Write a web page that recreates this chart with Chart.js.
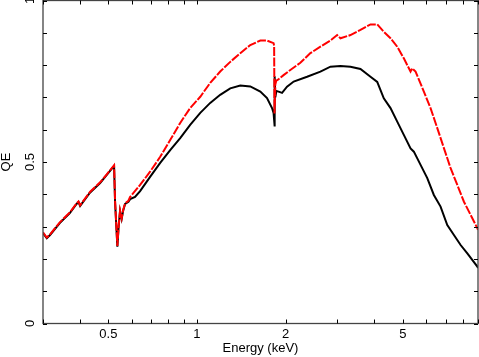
<!DOCTYPE html>
<html>
<head>
<meta charset="utf-8">
<script src="https://cdn.jsdelivr.net/npm/chart.js@4/dist/chart.umd.min.js"></script>
<style>
html,body{margin:0;padding:0;background:#fff;}
canvas{display:block;}
</style>
</head>
<body>
<canvas id="c" width="479" height="357"></canvas>
<script>
// Energy (keV) and QE for the black curve
const blackE = [0.300,0.309,0.317,0.342,0.370,0.390,0.396,0.401,0.433,0.469,0.494,0.523,0.527,0.5366,0.542,0.548,0.555,0.562,0.570,0.585,0.593,0.616,0.641,0.693,0.750,0.811,0.877,0.948,1.026,1.109,1.199,1.297,1.403,1.517,1.641,1.729,1.798,1.820,1.828,1.833,1.838,1.845,1.860,1.893,1.945,2.022,2.130,2.365,2.625,2.839,3.070,3.320,3.590,3.883,4.093,4.309,4.541,4.786,5.039,5.311,5.450,5.744,6.053,6.373,6.716,7.078,7.455,7.856,8.279,8.954,9.0];
const blackQE = [0.280,0.264,0.274,0.311,0.342,0.370,0.376,0.364,0.405,0.435,0.460,0.488,0.377,0.238,0.300,0.348,0.324,0.351,0.370,0.377,0.385,0.392,0.410,0.454,0.497,0.537,0.574,0.615,0.652,0.683,0.708,0.728,0.737,0.734,0.718,0.698,0.667,0.652,0.630,0.610,0.765,0.700,0.720,0.718,0.714,0.733,0.749,0.764,0.780,0.795,0.797,0.795,0.788,0.764,0.748,0.697,0.667,0.625,0.584,0.542,0.532,0.491,0.450,0.398,0.362,0.305,0.274,0.243,0.217,0.176,0.172];
// Energy (keV) and QE for the red curve
const redE = [0.300,0.309,0.317,0.342,0.370,0.390,0.396,0.401,0.433,0.469,0.494,0.523,0.527,0.5366,0.542,0.548,0.555,0.562,0.570,0.585,0.593,0.641,0.693,0.750,0.811,0.877,0.948,1.026,1.109,1.199,1.297,1.403,1.517,1.641,1.729,1.820,1.828,1.833,1.838,1.845,1.860,1.878,1.968,2.075,2.244,2.427,2.625,2.839,2.992,3.070,3.320,3.590,3.883,4.093,4.309,4.541,4.786,5.039,5.311,5.383,5.523,5.894,6.210,6.546,6.894,7.265,7.656,8.063,8.497,8.954,9.0];
const redQE = [0.282,0.266,0.276,0.313,0.344,0.372,0.378,0.366,0.407,0.437,0.462,0.490,0.380,0.240,0.302,0.350,0.326,0.353,0.372,0.380,0.392,0.429,0.470,0.516,0.568,0.621,0.667,0.702,0.745,0.780,0.810,0.837,0.862,0.876,0.876,0.868,0.860,0.650,0.680,0.740,0.752,0.754,0.769,0.785,0.807,0.837,0.857,0.876,0.893,0.883,0.893,0.909,0.926,0.926,0.903,0.883,0.857,0.821,0.780,0.790,0.780,0.718,0.667,0.605,0.543,0.481,0.429,0.377,0.336,0.295,0.290];
// Axis tick values and labels
const xMinorTicks = [0.3,0.4,0.5,0.6,0.7,0.8,0.9,1,2,3,4,5,6,7,8,9];
const xLabelTicks = [0.5,1,2,5];
const xLabels = ["0.5","1","2","5"];
const yMinorTicks = [0,0.1,0.2,0.3,0.4,0.5,0.6,0.7,0.8,0.9,1];
const yLabelTicks = [0,0.5,1];
const yLabels = ["0","0.5","1"];

const zip = (xs, ys) => xs.map((x, i) => ({x: x, y: ys[i]}));

const framePlugin = {
  id: 'frame',
  afterDraw(chart) {
    const ctx = chart.ctx;
    const a = chart.chartArea;
    const xs = chart.scales.x, ys = chart.scales.y;
    ctx.save();
    ctx.strokeStyle = '#444';
    ctx.lineWidth = 1.3;
    ctx.strokeRect(a.left, a.top, a.right - a.left, a.bottom - a.top);
    ctx.strokeStyle = '#000';
    ctx.lineWidth = 1;
    const tl = 4;
    xMinorTicks.forEach(v => {
      const px = Math.round(xs.getPixelForValue(v)) + 0.5;
      ctx.beginPath();
      ctx.moveTo(px, a.bottom); ctx.lineTo(px, a.bottom - tl);
      ctx.moveTo(px, a.top); ctx.lineTo(px, a.top + tl);
      ctx.stroke();
    });
    yMinorTicks.forEach(v => {
      const py = Math.round(ys.getPixelForValue(v)) + 0.5;
      ctx.beginPath();
      ctx.moveTo(a.left, py); ctx.lineTo(a.left + tl, py);
      ctx.moveTo(a.right, py); ctx.lineTo(a.right - tl, py);
      ctx.stroke();
    });
    ctx.fillStyle = '#000';
    ctx.font = '13px "Liberation Sans", Arial, sans-serif';
    ctx.textAlign = 'center';
    ctx.textBaseline = 'middle';
    xLabelTicks.forEach((v, i) => {
      ctx.fillText(xLabels[i], xs.getPixelForValue(v), 334);
    });
    ctx.fillText('Energy (keV)', (a.left + a.right) / 2, 348);
    yLabelTicks.forEach((v, i) => {
      ctx.save();
      ctx.translate(30, ys.getPixelForValue(v));
      ctx.rotate(-Math.PI / 2);
      ctx.fillText(yLabels[i], 0, 0);
      ctx.restore();
    });
    ctx.save();
    ctx.translate(6, (a.top + a.bottom) / 2);
    ctx.rotate(-Math.PI / 2);
    ctx.fillText('QE', 0, 0);
    ctx.restore();
    ctx.restore();
  }
};

new Chart(document.getElementById('c'), {
  type: 'line',
  data: {
    datasets: [
      {
        data: zip(redE, redQE),
        borderColor: '#ff0000',
        borderWidth: 2,
        borderDash: [9, 1.5],
        pointRadius: 0,
        tension: 0,
        fill: false
      },
      {
        data: zip(blackE, blackQE),
        borderColor: '#000000',
        borderWidth: 2,
        pointRadius: 0,
        tension: 0,
        fill: false
      }
    ]
  },
  options: {
    responsive: false,
    animation: false,
    events: [],
    layout: { padding: { left: 43, right: 1, top: 0.5, bottom: 33.5 } },
    plugins: { legend: { display: false }, tooltip: { enabled: false } },
    scales: {
      x: { type: 'logarithmic', min: 0.3, max: 9, display: false },
      y: { type: 'linear', min: 0, max: 1, display: false }
    }
  },
  plugins: [framePlugin]
});
</script>
</body>
</html>
